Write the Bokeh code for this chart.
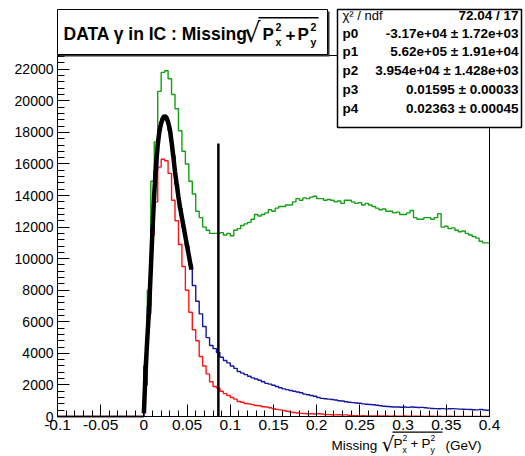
import numpy as np
from bokeh.plotting import figure
from bokeh.models import (Range1d, FixedTicker, Label, BoxAnnotation, ColumnDataSource)
from bokeh.embed import file_html
from bokeh.resources import INLINE

# ---------------- data ----------------
bin_low = -0.1
bin_width = 0.004
n_neg = 25  # empty bins below 0

green_counts = [0] * n_neg + [
    3000, 8000, 14900, 17400, 20600, 21800, 21900, 21400, 20400, 19500,
    18100, 16800, 16000, 14900, 14100, 13000, 12600, 12000, 11800, 11600,
    11600, 11600, 11650, 11500, 11600, 11450, 11800, 11900, 12100, 12200,
    12300, 12500, 12800, 12700, 12800, 12900, 13100, 13000, 13200, 13300,
    13300, 13400, 13400, 13600, 13800, 13700, 13850, 13800, 13900, 13950,
    13800, 13800, 13700, 13750, 13700, 13600, 13650, 13500, 13700, 13700,
    13600, 13500, 13550, 13400, 13500, 13400, 13300, 13200, 13100, 13150,
    13000, 13000, 12900, 12950, 12800, 12800, 12900, 13050, 12600, 12500,
    12500, 12600, 12600, 12500, 12600, 12850, 12000, 12050, 11900, 11950,
    11800, 11700, 11750, 11600, 11500, 11400, 11300, 11100, 11000, 11000]

red_counts = [0] * n_neg + [
    2000, 6500, 11500, 13600, 15800, 16300, 16200, 15400, 13700, 12400,
    10900, 9500, 8000, 6600, 5500, 4800, 3800, 3200, 2700, 2200,
    1900, 1800, 1600, 1450, 1330, 1200, 1100, 950, 900, 820,
    800, 750, 700, 680, 620, 600, 550, 500, 450, 420,
    380, 330, 280, 250, 220, 200, 190, 170, 170, 160,
    170, 160, 120, 120, 110, 100, 110, 100, 100, 60,
    50, 50, 40, 50, 40, 40, 30, 40, 30, 30,
    30, 20, 30, 20, 20, 30, 20, 20, 20, 20,
    20, 10, 20, 20, 10, 20, 10, 10, 20, 10,
    10, 10, 10, 10, 10, 10, 10, 10, 10, 10]

blue_counts = [0] * n_neg + [
    3200, 7000, 11900, 15600, 18100, 18900, 18800, 18100, 16500, 14700,
    13200, 12000, 10800, 9600, 8300, 7300, 6500, 5700, 5000, 4500,
    4300, 4050, 3750, 3550, 3400, 3200, 3050, 2850, 2750, 2650,
    2550, 2450, 2380, 2300, 2200, 2100, 2050, 1980, 1900, 1820,
    1750, 1700, 1650, 1600, 1550, 1500, 1420, 1380, 1330, 1280,
    1200, 1150, 1120, 1100, 1080, 1050, 1000, 980, 930, 900,
    880, 860, 840, 800, 780, 760, 740, 710, 680, 650,
    630, 620, 600, 600, 590, 600, 580, 600, 590, 570,
    580, 550, 530, 510, 500, 490, 500, 480, 490, 500,
    480, 470, 460, 450, 440, 430, 420, 450, 410, 400]

fit_x = [0.000, 0.002, 0.004, 0.006, 0.008, 0.010, 0.012, 0.014, 0.016, 0.018,
         0.020, 0.022, 0.024, 0.026, 0.028, 0.030, 0.032, 0.034, 0.036, 0.038,
         0.040, 0.042, 0.044, 0.046, 0.048, 0.050, 0.052, 0.054, 0.055]
fit_y = [200, 3000, 5000, 6800, 9300, 11900, 14100, 15900, 17200, 18100,
         18600, 18900, 19050, 18950, 18650, 18200, 17400, 16500, 15500, 14700,
         13900, 13200, 12600, 12000, 11400, 10800, 10200, 9600, 9300]

cut_x = 0.0862
cut_top = 17300

x_min, x_max = -0.1, 0.4
y_min, y_max = 0, 22870
x_ticks = [-0.1, -0.05, 0, 0.05, 0.1, 0.15, 0.2, 0.25, 0.3, 0.35, 0.4]
x_tick_labels = ["-0.1", "-0.05", "0", "0.05", "0.1", "0.15", "0.2", "0.25", "0.3", "0.35", "0.4"]
y_ticks = [0, 2000, 4000, 6000, 8000, 10000, 12000, 14000, 16000, 18000, 20000, 22000]

stat_names = ["\u03c7\u00b2 / ndf", "p0", "p1", "p2", "p3", "p4"]
stat_values = ["72.04 / 17", "-3.17e+04 \u00b1 1.72e+03", "5.62e+05 \u00b1 1.91e+04",
               "3.954e+04 \u00b1 1.428e+03", "0.01595 \u00b1 0.00033", "0.02363 \u00b1 0.00045"]

# ---------------- layout (pixels) ----------------
FONT = "Liberation Sans"
W, H = 524, 455
FL, FR, FT, FB = 57, 489, 55, 416   # ROOT frame in canvas pixels

sxp = (FR - FL) / (x_max - x_min)
syp = (FB - FT) / (y_max - y_min)
xr = Range1d(x_min - FL / sxp, x_min + (W - FL) / sxp)
yr = Range1d(y_min - (H - FB) / syp, y_max + FT / syp)

p = figure(width=W, height=H, output_backend="svg", toolbar_location=None, title=None,
           x_range=xr, y_range=yr, min_border=0)
p.background_fill_color = "white"
p.border_fill_color = "white"
p.outline_line_color = None
p.xgrid.visible = False
p.ygrid.visible = False

edges = bin_low + bin_width * np.arange(len(green_counts) + 1)

def hist(counts, color):
    y = list(counts) + [counts[-1]]
    src = ColumnDataSource(dict(x=edges, y=y))
    p.step("x", "y", source=src, mode="after", line_color=color, line_width=1.4)

hist(green_counts, "#12a012")
hist(red_counts, "#ff1414")
hist(blue_counts, "#1616a0")
p.line(fit_x, fit_y, line_color="black", line_width=4.5)
p.segment(x0=[cut_x], y0=[0], x1=[cut_x], y1=[cut_top], line_color="black", line_width=2.5)

# axes at fixed locations on the ROOT frame
xminor = [round(-0.1 + 0.01 * i, 3) for i in range(51)]
p.xaxis.ticker = FixedTicker(ticks=x_ticks, minor_ticks=xminor)
p.xaxis.major_label_overrides = {t: l for t, l in zip(x_ticks, x_tick_labels)}
yminor = list(range(0, 22870, 400))
p.yaxis.ticker = FixedTicker(ticks=y_ticks, minor_ticks=yminor)
p.xaxis.fixed_location = y_min
p.yaxis.fixed_location = x_min
p.xaxis.bounds = (x_min, x_max)
p.yaxis.bounds = (y_min, y_max)
for ax in (p.xaxis[0], p.yaxis[0]):
    ax.axis_line_color = "black"
    ax.major_tick_line_color = "black"
    ax.minor_tick_line_color = "black"
    ax.major_tick_out = 0
    ax.minor_tick_out = 0
    ax.major_label_text_font = FONT
    ax.major_label_text_color = "black"
p.xaxis.major_tick_in = 12
p.xaxis.minor_tick_in = 6
p.yaxis.major_tick_in = 12
p.yaxis.minor_tick_in = 7
p.xaxis.major_label_text_font_size = "15.5px"
p.yaxis.major_label_text_font_size = "14px"
p.xaxis.major_label_standoff = 3
p.yaxis.major_label_standoff = 4

# ROOT frame
p.add_layout(BoxAnnotation(left=x_min, right=x_max, bottom=y_min, top=y_max,
                           fill_alpha=0, line_color="black", line_width=1, line_alpha=1))

# helpers in canvas pixel coordinates (top-left origin)
def lab(text, X, Y, size, bold=False, align="left", baseline="middle", font=FONT):
    p.add_layout(Label(x=X, y=H - Y, x_units="screen", y_units="screen", text=text,
                       text_font=font, text_font_size=f"{size}px",
                       text_font_style="bold" if bold else "normal",
                       text_align=align, text_baseline=baseline, text_color="black"))

def box(x0, y0, x1, y1, lw=1, fill="white", line="black"):
    p.add_layout(BoxAnnotation(left=x0, right=x1, top=H - y0, bottom=H - y1,
                               left_units="screen", right_units="screen",
                               top_units="screen", bottom_units="screen",
                               fill_color=fill, fill_alpha=1.0, line_color=line,
                               line_width=lw, line_alpha=1.0))

# title box
box(59, 11, 329, 56, lw=0, fill="#333333", line=None)
box(57, 9, 327, 54)
lab("DATA \u03b3 in IC : Missing", 63, 33, 17.5, bold=True)
lab("\u221a", 243, 32, 27, font="DejaVu Sans")
box(258, 16.5, 318, 18, lw=0, fill="black", line=None)
lab("P", 262, 34, 17, bold=True)
lab("2", 275, 26, 10.5, bold=True)
lab("x", 275, 41, 10.5, bold=True)
lab("+", 285, 34, 17, bold=True)
lab("P", 297, 34, 17, bold=True)
lab("2", 310, 26, 10.5, bold=True)
lab("y", 310, 41, 10.5, bold=True)

# stats box
box(337, 9, 521, 127, lw=1.5)
rows_y = [14.5, 32.5, 51, 70, 88.5, 107.5]
for i, (n, v) in enumerate(zip(stat_names, stat_values)):
    lab(n, 342, rows_y[i], 13.5 if i > 0 else 13, bold=(i > 0))
    lab(v, 518, rows_y[i], 13.5, bold=True, align="right")

# x axis title
lab("Missing", 331, 445, 13.5)
lab("\u221a", 381, 443, 20, font="DejaVu Sans")
box(392, 431, 442, 432.2, lw=0, fill="black", line=None)
lab("P", 393, 443, 13.5)
lab("2", 402, 437, 8.5)
lab("x", 402, 449, 8.5)
lab("+", 410, 443, 13.5)
lab("P", 421, 443, 13.5)
lab("2", 430, 437, 8.5)
lab("y", 430, 449, 8.5)
lab("(GeV)", 445, 445, 13.5)

open("out.html", "w").write(file_html(p, INLINE))
